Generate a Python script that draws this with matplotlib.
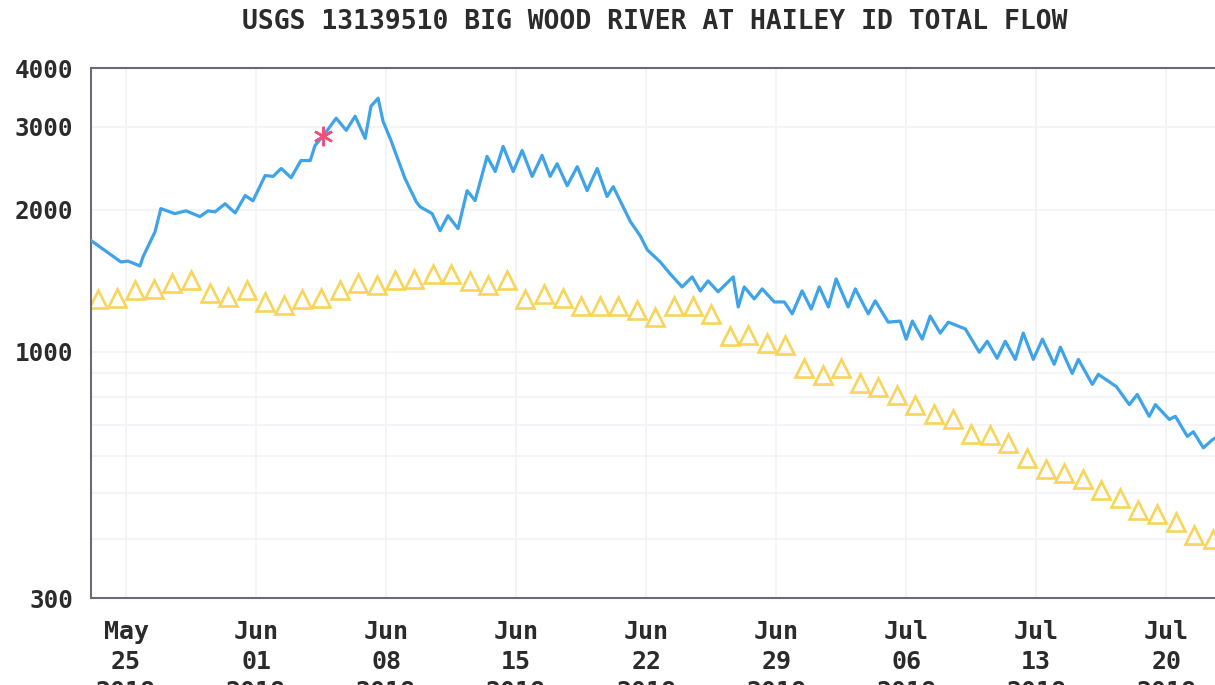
import matplotlib
matplotlib.use("Agg")
import matplotlib.pyplot as plt
import pandas as pd

# instantaneous discharge (cfs)
flow_times = [
    "05-23 03:00", "05-24 17:30", "05-25 02:30", "05-25 18:00", "05-25 22:00",
    "05-26 13:30", "05-26 21:00", "05-27 15:00", "05-28 05:30", "05-28 23:30",
    "05-29 10:00", "05-29 19:00", "05-30 08:00", "05-30 21:00", "05-31 10:00",
    "05-31 20:00", "06-01 11:45", "06-01 22:00", "06-02 08:30", "06-02 21:15",
    "06-03 10:00", "06-03 22:00", "06-04 04:15", "06-04 14:30", "06-05 07:30",
    "06-05 20:30", "06-06 08:00", "06-06 21:00", "06-07 04:30", "06-07 13:45",
    "06-07 20:00", "06-08 05:15", "06-09 00:30", "06-09 15:00", "06-09 20:00",
    "06-10 11:30", "06-10 21:45", "06-11 08:00", "06-11 21:00", "06-12 08:45",
    "06-12 19:00", "06-13 10:30", "06-13 21:00", "06-14 07:15", "06-14 20:15",
    "06-15 07:45", "06-15 20:45", "06-16 09:30", "06-16 20:00", "06-17 05:00",
    "06-17 18:00", "06-18 07:00", "06-18 19:45", "06-19 08:45", "06-19 21:30",
    "06-20 05:30", "06-21 03:30", "06-21 16:15", "06-22 01:30", "06-22 18:15",
    "06-23 07:00", "06-23 22:30", "06-24 11:30", "06-24 22:00", "06-25 08:00",
    "06-25 21:00", "06-26 16:30", "06-26 23:00", "06-27 06:45", "06-27 19:45",
    "06-28 06:00", "06-28 21:30", "06-29 10:30", "06-29 20:45", "06-30 09:30",
    "06-30 21:15", "07-01 07:45", "07-01 19:30", "07-02 05:30", "07-02 21:00",
    "07-03 06:15", "07-03 23:00", "07-04 08:00", "07-05 00:45", "07-05 16:15",
    "07-06 00:00", "07-06 08:00", "07-06 20:45", "07-07 07:00", "07-07 20:00",
    "07-08 06:30", "07-09 04:30", "07-09 22:30", "07-10 08:45", "07-10 21:30",
    "07-11 08:00", "07-11 21:00", "07-12 07:15", "07-12 20:15", "07-13 08:00",
    "07-13 23:15", "07-14 07:15", "07-14 22:30", "07-15 06:30", "07-16 00:30",
    "07-16 08:15", "07-17 07:30", "07-18 00:15", "07-18 10:30", "07-19 02:00",
    "07-19 10:00", "07-20 04:00", "07-20 11:45", "07-21 03:15", "07-21 11:00",
    "07-22 00:00", "07-22 11:30", "07-22 15:00",
]
flow_cfs = [
    1720, 1550, 1557, 1520, 1590,
    1797, 2012, 1963, 1990, 1935,
    1990, 1980, 2060, 1970, 2145,
    2090, 2365, 2355, 2448, 2340,
    2545, 2545, 2740, 2865, 3130,
    2950, 3160, 2836, 3320, 3450,
    3085, 2836, 2330, 2080, 2030,
    1963, 1806, 1944, 1824, 2197,
    2092, 2596, 2412, 2727, 2412,
    2673, 2355, 2610, 2355, 2505,
    2250, 2470, 2197, 2448, 2135,
    2240, 1890, 1762, 1645, 1550,
    1463, 1372, 1441, 1346, 1413,
    1340, 1441, 1244, 1372, 1294,
    1359, 1275, 1275, 1203, 1346,
    1232, 1372, 1244, 1427, 1244,
    1359, 1203, 1282, 1155, 1161,
    1063, 1161, 1063, 1190, 1095,
    1155, 1117, 997, 1052, 968,
    1052, 963, 1095, 963, 1063,
    940, 1022, 899, 963, 852,
    895, 843, 772, 811, 729,
    772, 718, 729, 661, 676,
    625, 650, 655,
]

# daily median discharge (yellow triangles), one per day at noon
median_start = "2018-05-23 12:00"
median_cfs = [
    1294, 1300, 1350, 1360, 1400, 1420, 1335, 1305, 1350, 1275,
    1255, 1294, 1300, 1350, 1400, 1385, 1420, 1427, 1460, 1460,
    1410, 1385, 1420, 1294, 1325, 1300, 1250, 1250, 1250, 1225,
    1185, 1250, 1250, 1200, 1080, 1085, 1045, 1035, 925, 890,
    925, 860, 843, 810, 770, 736, 718, 670, 665, 640,
    595, 563, 553, 537, 509, 490, 461, 452, 436, 408,
    400,
]

# provisional-data marker (red star)
star_time = "06-04 14:30"
star_cfs = 2865

tick_dates = ["2018-05-25", "2018-06-01", "2018-06-08", "2018-06-15", "2018-06-22",
              "2018-06-29", "2018-07-06", "2018-07-13", "2018-07-20"]
y_ticks = [300, 1000, 2000, 3000, 4000]
y_grid = [400, 500, 600, 700, 800, 900, 1000, 2000, 3000]

t_flow = pd.to_datetime(["2018-" + s for s in flow_times])
t_med = pd.date_range(median_start, periods=len(median_cfs), freq="D")
ticks = pd.to_datetime(tick_dates)

fig = plt.figure(figsize=(12.15, 6.85), dpi=100)
ax = fig.add_axes([91 / 1215, 1 - 598 / 685, 1 - 91 / 1215, (598 - 68) / 685])

ax.set_yscale("log")
ax.set_ylim(300, 4000)
ax.set_xlim(pd.Timestamp("2018-05-23 02:45"), pd.Timestamp("2018-07-22 15:00"))

# faint grid
for g in y_grid:
    ax.axhline(g, color="#f0f2f7", lw=1.2, zorder=0)
for t in ticks:
    ax.axvline(t, color="#f0f2f7", lw=1.2, zorder=0)

ax.plot(t_med, median_cfs, linestyle="none", marker="^", ms=13.5, mfc="none",
        mec="#f8d55a", mew=1.9, zorder=2)
ax.plot(t_flow, flow_cfs, color="#3ea3e8", lw=2.3, zorder=3)
ax.plot(pd.Timestamp("2018-" + star_time), star_cfs, marker=(6, 2, 0), ms=14,
        color="#f0507a", mew=1.8, zorder=4)

mono = "DejaVu Sans Mono"
ax.set_yticks(y_ticks)
ax.set_yticklabels([str(v) for v in y_ticks], fontfamily=mono, fontweight="bold",
                   fontsize=17.5, color="#2b2b2b")
ax.yaxis.set_minor_locator(matplotlib.ticker.NullLocator())
ax.set_xticks(ticks)
ax.set_xticklabels([t.strftime("%b\n%d\n%Y") for t in ticks], fontfamily=mono,
                   fontweight="bold", fontsize=18, color="#2b2b2b", linespacing=1.3)
ax.tick_params(axis="y", length=0, pad=13)
ax.tick_params(axis="x", length=0, pad=16)

for side in ["left", "top", "bottom"]:
    ax.spines[side].set_color("#6a6a78")
    ax.spines[side].set_linewidth(1.5)
ax.spines["right"].set_visible(False)

fig.text(655 / 1215, 1 - 22 / 685, "USGS 13139510 BIG WOOD RIVER AT HAILEY ID TOTAL FLOW",
         ha="center", va="center", fontfamily=mono, fontweight="bold",
         fontsize=19, color="#2b2b2b")

fig.savefig("out.png", dpi=100)
